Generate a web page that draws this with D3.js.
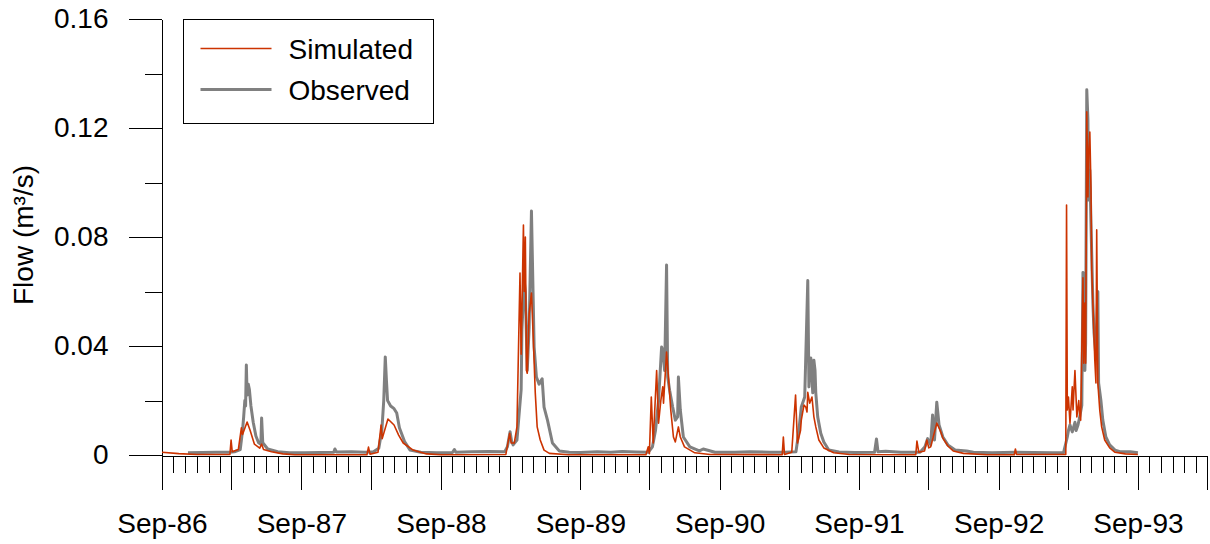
<!DOCTYPE html>
<html>
<head>
<meta charset="utf-8">
<script src="https://cdn.jsdelivr.net/npm/d3@7"></script>
<style>
  body { margin: 0; background: #fff; }
  svg { display: block; font-family: "Liberation Sans", Arial, sans-serif; }
  .axis text { font-size: 28px; fill: #000; }
  .axis line, .axis path { stroke: #000; shape-rendering: crispEdges; }
</style>
</head>
<body>
<div id="chart"></div>
<script>
// observed flow, m3/s
const observed = [
  ["1986-11-08", 0.0008], ["1986-12-15", 0.0009], ["1987-01-20", 0.0010], ["1987-02-25", 0.0010],
  ["1987-03-10", 0.0012], ["1987-03-25", 0.0020], ["1987-03-31", 0.0090], ["1987-04-03", 0.0140],
  ["1987-04-06", 0.0200], ["1987-04-08", 0.0180], ["1987-04-10", 0.0330], ["1987-04-12", 0.0220],
  ["1987-04-15", 0.0260], ["1987-04-18", 0.0240], ["1987-04-22", 0.0180], ["1987-04-28", 0.0120],
  ["1987-05-05", 0.0070], ["1987-05-12", 0.0045], ["1987-05-18", 0.0040], ["1987-05-20", 0.0136],
  ["1987-05-23", 0.0045], ["1987-06-05", 0.0022], ["1987-07-01", 0.0012], ["1987-08-01", 0.0008],
  ["1987-09-10", 0.0008], ["1987-10-20", 0.0009], ["1987-11-25", 0.0010], ["1987-11-28", 0.0022],
  ["1987-12-02", 0.0011], ["1988-01-10", 0.0012], ["1988-02-15", 0.0010], ["1988-03-08", 0.0012],
  ["1988-03-22", 0.0025], ["1988-03-30", 0.0090], ["1988-04-04", 0.0200], ["1988-04-08", 0.0360],
  ["1988-04-11", 0.0275], ["1988-04-14", 0.0200], ["1988-04-22", 0.0180], ["1988-05-01", 0.0170],
  ["1988-05-08", 0.0154], ["1988-05-15", 0.0100], ["1988-05-29", 0.0048], ["1988-06-12", 0.0018],
  ["1988-07-10", 0.0010], ["1988-08-20", 0.0008], ["1988-10-01", 0.0009], ["1988-10-06", 0.0020],
  ["1988-10-10", 0.0010], ["1988-11-20", 0.0012], ["1989-01-05", 0.0013], ["1989-02-15", 0.0012],
  ["1989-02-22", 0.0030], ["1989-03-01", 0.0085], ["1989-03-05", 0.0050], ["1989-03-09", 0.0037],
  ["1989-03-19", 0.0055], ["1989-03-30", 0.0240], ["1989-04-01", 0.0460], ["1989-04-07", 0.0640],
  ["1989-04-10", 0.0600], ["1989-04-15", 0.0310], ["1989-04-20", 0.0470], ["1989-04-26", 0.0895],
  ["1989-05-03", 0.0396], ["1989-05-09", 0.0286], ["1989-05-16", 0.0260], ["1989-05-24", 0.0280],
  ["1989-05-29", 0.0176], ["1989-06-07", 0.0128], ["1989-06-20", 0.0044], ["1989-07-08", 0.0015],
  ["1989-08-03", 0.0010], ["1989-09-01", 0.0009], ["1989-10-15", 0.0012], ["1989-11-20", 0.0010],
  ["1989-12-20", 0.0013], ["1990-01-25", 0.0011], ["1990-02-26", 0.0010], ["1990-03-09", 0.0030],
  ["1990-03-17", 0.0090], ["1990-03-25", 0.0200], ["1990-04-02", 0.0396], ["1990-04-05", 0.0385],
  ["1990-04-10", 0.0310], ["1990-04-15", 0.0697], ["1990-04-18", 0.0286], ["1990-04-23", 0.0238],
  ["1990-05-01", 0.0176], ["1990-05-08", 0.0128], ["1990-05-14", 0.0140], ["1990-05-16", 0.0286],
  ["1990-05-21", 0.0165], ["1990-05-29", 0.0066], ["1990-06-15", 0.0030], ["1990-07-10", 0.0015],
  ["1990-07-20", 0.0022], ["1990-08-20", 0.0010], ["1990-10-10", 0.0010], ["1990-11-20", 0.0012],
  ["1991-01-10", 0.0010], ["1991-02-20", 0.0010], ["1991-03-20", 0.0012], ["1991-03-27", 0.0080],
  ["1991-04-03", 0.0176], ["1991-04-12", 0.0213], ["1991-04-20", 0.0640], ["1991-04-23", 0.0250],
  ["1991-04-25", 0.0337], ["1991-04-28", 0.0356], ["1991-05-03", 0.0228], ["1991-05-06", 0.0348],
  ["1991-05-09", 0.0310], ["1991-05-11", 0.0228], ["1991-05-16", 0.0140], ["1991-05-24", 0.0080],
  ["1991-06-01", 0.0048], ["1991-06-14", 0.0018], ["1991-07-11", 0.0011], ["1991-08-20", 0.0009],
  ["1991-10-12", 0.0010], ["1991-10-17", 0.0059], ["1991-10-21", 0.0012], ["1991-11-10", 0.0014],
  ["1991-12-20", 0.0010], ["1992-02-08", 0.0010], ["1992-02-21", 0.0030], ["1992-02-28", 0.0060],
  ["1992-03-07", 0.0037], ["1992-03-12", 0.0147], ["1992-03-17", 0.0055], ["1992-03-23", 0.0194],
  ["1992-03-29", 0.0110], ["1992-04-08", 0.0066], ["1992-04-21", 0.0037], ["1992-05-10", 0.0018],
  ["1992-06-09", 0.0015], ["1992-06-27", 0.0010], ["1992-08-15", 0.0008], ["1992-10-15", 0.0010],
  ["1992-12-01", 0.0009], ["1993-01-20", 0.0008], ["1993-02-18", 0.0008], ["1993-02-28", 0.0066],
  ["1993-03-03", 0.0090], ["1993-03-07", 0.0110], ["1993-03-13", 0.0085], ["1993-03-20", 0.0120],
  ["1993-03-23", 0.0090], ["1993-03-28", 0.0110], ["1993-04-01", 0.0136], ["1993-04-07", 0.0183],
  ["1993-04-10", 0.0670], ["1993-04-12", 0.0630], ["1993-04-15", 0.0310], ["1993-04-17", 0.0410],
  ["1993-04-20", 0.1340], ["1993-04-23", 0.1230], ["1993-04-25", 0.0936], ["1993-04-28", 0.1046],
  ["1993-05-01", 0.0850], ["1993-05-06", 0.0558], ["1993-05-09", 0.0448], ["1993-05-14", 0.0360],
  ["1993-05-19", 0.0600], ["1993-05-21", 0.0264], ["1993-05-27", 0.0200], ["1993-06-01", 0.0128],
  ["1993-06-09", 0.0066], ["1993-06-19", 0.0037], ["1993-07-03", 0.0018], ["1993-07-16", 0.0012],
  ["1993-08-12", 0.0012], ["1993-09-01", 0.0008]
];

// simulated flow, m3/s
const simulated = [
  ["1986-09-01", 0.0010], ["1986-10-15", 0.0005], ["1986-12-01", 0.0002], ["1987-02-26", 0.0002],
  ["1987-03-01", 0.0055], ["1987-03-04", 0.0012], ["1987-03-20", 0.0020], ["1987-03-28", 0.0100],
  ["1987-03-31", 0.0075], ["1987-04-12", 0.0121], ["1987-04-20", 0.0090], ["1987-05-01", 0.0040],
  ["1987-05-15", 0.0025], ["1987-05-20", 0.0040], ["1987-05-25", 0.0020], ["1987-06-15", 0.0012],
  ["1987-07-15", 0.0004], ["1987-08-15", 0.0001], ["1988-02-20", 0.0001], ["1988-02-24", 0.0029],
  ["1988-02-28", 0.0003], ["1988-03-20", 0.0010], ["1988-03-28", 0.0110], ["1988-03-31", 0.0060],
  ["1988-04-15", 0.0132], ["1988-05-01", 0.0110], ["1988-05-13", 0.0073], ["1988-05-25", 0.0044],
  ["1988-06-20", 0.0018], ["1988-07-25", 0.0004], ["1988-09-01", 0.0001], ["1989-02-18", 0.0002],
  ["1989-02-28", 0.0080], ["1989-03-04", 0.0044], ["1989-03-12", 0.0044], ["1989-03-19", 0.0103],
  ["1989-03-27", 0.0668], ["1989-03-30", 0.0370], ["1989-04-05", 0.0844], ["1989-04-07", 0.0600],
  ["1989-04-10", 0.0800], ["1989-04-13", 0.0310], ["1989-04-15", 0.0300], ["1989-04-20", 0.0520],
  ["1989-04-26", 0.0594], ["1989-05-01", 0.0420], ["1989-05-06", 0.0228], ["1989-05-11", 0.0103],
  ["1989-05-19", 0.0055], ["1989-05-29", 0.0018], ["1989-06-12", 0.0006], ["1989-08-01", 0.0001],
  ["1990-02-20", 0.0001], ["1990-02-26", 0.0030], ["1990-03-01", 0.0005], ["1990-03-06", 0.0213],
  ["1990-03-11", 0.0044], ["1990-03-20", 0.0310], ["1990-03-25", 0.0117], ["1990-03-31", 0.0200],
  ["1990-04-05", 0.0250], ["1990-04-07", 0.0190], ["1990-04-15", 0.0378], ["1990-04-20", 0.0286],
  ["1990-04-26", 0.0165], ["1990-05-03", 0.0066], ["1990-05-08", 0.0048], ["1990-05-16", 0.0103],
  ["1990-05-21", 0.0066], ["1990-06-01", 0.0030], ["1990-06-28", 0.0008], ["1990-08-07", 0.0002],
  ["1991-02-12", 0.0001], ["1991-02-15", 0.0066], ["1991-02-18", 0.0002], ["1991-03-09", 0.0010],
  ["1991-03-19", 0.0220], ["1991-03-24", 0.0044], ["1991-04-01", 0.0090], ["1991-04-03", 0.0128],
  ["1991-04-10", 0.0183], ["1991-04-15", 0.0175], ["1991-04-18", 0.0158], ["1991-04-20", 0.0230],
  ["1991-04-25", 0.0190], ["1991-05-01", 0.0213], ["1991-05-06", 0.0140], ["1991-05-11", 0.0103],
  ["1991-05-19", 0.0055], ["1991-06-01", 0.0026], ["1991-06-27", 0.0008], ["1991-08-07", 0.0002],
  ["1992-01-28", 0.0001], ["1992-01-31", 0.0051], ["1992-02-05", 0.0010], ["1992-02-20", 0.0015],
  ["1992-02-26", 0.0055], ["1992-03-02", 0.0026], ["1992-03-07", 0.0030], ["1992-03-23", 0.0117],
  ["1992-04-01", 0.0090], ["1992-04-08", 0.0062], ["1992-04-21", 0.0033], ["1992-05-05", 0.0015],
  ["1992-06-01", 0.0006], ["1992-08-01", 0.0001], ["1992-10-12", 0.0001], ["1992-10-15", 0.0022],
  ["1992-10-18", 0.0002], ["1993-02-24", 0.0002], ["1993-02-26", 0.0917], ["1993-02-28", 0.0165],
  ["1993-03-03", 0.0213], ["1993-03-07", 0.0117], ["1993-03-13", 0.0250], ["1993-03-15", 0.0165],
  ["1993-03-20", 0.0310], ["1993-03-25", 0.0140], ["1993-03-30", 0.0200], ["1993-04-01", 0.0154],
  ["1993-04-04", 0.0128], ["1993-04-10", 0.0650], ["1993-04-12", 0.0337], ["1993-04-15", 0.0558],
  ["1993-04-17", 0.0337], ["1993-04-20", 0.1259], ["1993-04-23", 0.0947], ["1993-04-25", 0.1110],
  ["1993-04-28", 0.1185], ["1993-05-01", 0.0980], ["1993-05-03", 0.0680], ["1993-05-06", 0.0558],
  ["1993-05-09", 0.0433], ["1993-05-11", 0.0349], ["1993-05-14", 0.0264], ["1993-05-16", 0.0826],
  ["1993-05-19", 0.0264], ["1993-05-24", 0.0165], ["1993-05-29", 0.0103], ["1993-06-06", 0.0055],
  ["1993-06-19", 0.0026], ["1993-07-03", 0.0010], ["1993-07-30", 0.0004], ["1993-09-01", 0.0002]
];

const yMajorTicks = [0, 0.04, 0.08, 0.12, 0.16];
const yMinorTicks = [0.02, 0.06, 0.10, 0.14];
const xStart = "1986-09-01";
const xEnd = "1994-03-01";
const seriesNames = ["Simulated", "Observed"];

const width = 1210;
const height = 544;
const margin = { top: 19, right: 3, bottom: 89, left: 162 };
const colors = { Simulated: "#cc3300", Observed: "#808080" };
const widths = { Simulated: 1.6, Observed: 3 };

const parse = d3.utcParse("%Y-%m-%d");
const toPoints = (arr) => arr.map(([d, v]) => ({ date: parse(d), value: v }));
const obs = toPoints(observed);
const sim = toPoints(simulated);

const svg = d3.select("#chart").append("svg")
  .attr("width", width)
  .attr("height", height);

const x = d3.scaleUtc()
  .domain([parse(xStart), parse(xEnd)])
  .range([margin.left, width - margin.right]);

const y = d3.scaleLinear()
  .domain([0, 0.16])
  .range([height - margin.bottom, margin.top]);

// y axis: minor then major ticks
svg.append("g")
  .attr("class", "axis")
  .attr("transform", `translate(${margin.left - 0.5},0)`)
  .call(d3.axisLeft(y).tickValues(yMinorTicks).tickSize(17).tickSizeOuter(0).tickFormat(""));

svg.append("g")
  .attr("class", "axis")
  .attr("transform", `translate(${margin.left - 0.5},0)`)
  .call(d3.axisLeft(y).tickValues(yMajorTicks).tickSize(33).tickSizeOuter(0).tickPadding(20)
    .tickFormat((d) => (d === 0 ? "0" : d3.format(".2f")(d))));

// x axis: monthly minor ticks, major ticks on Sep and Mar, labels on Sep
const xBase = height - margin.bottom;
const allMonths = d3.utcMonth.range(parse(xStart), d3.utcMonth.offset(parse(xEnd), 1));
const halfYears = allMonths.filter((d) => d.getUTCMonth() === 8 || d.getUTCMonth() === 2);

svg.append("g")
  .attr("class", "axis")
  .attr("transform", `translate(0,${xBase + 0.5})`)
  .call(d3.axisBottom(x).tickValues(allMonths).tickSize(17).tickSizeOuter(0).tickFormat(""));

svg.append("g")
  .attr("class", "axis")
  .attr("transform", `translate(0,${xBase + 0.5})`)
  .call(d3.axisBottom(x).tickValues(halfYears).tickSize(34).tickSizeOuter(0).tickPadding(24)
    .tickFormat((d) => (d.getUTCMonth() === 8 ? d3.utcFormat("%b-%y")(d) : "")));

// y label
svg.append("text")
  .attr("transform", `translate(33,${235}) rotate(-90)`)
  .attr("text-anchor", "middle")
  .style("font-size", "28px")
  .text("Flow (m³/s)");

// lines
const line = d3.line()
  .x((d) => x(d.date))
  .y((d) => y(d.value));

svg.append("path")
  .datum(obs)
  .attr("fill", "none")
  .attr("stroke", colors.Observed)
  .attr("stroke-width", widths.Observed)
  .attr("stroke-linejoin", "round")
  .attr("d", line);

svg.append("path")
  .datum(sim)
  .attr("fill", "none")
  .attr("stroke", colors.Simulated)
  .attr("stroke-width", widths.Simulated)
  .attr("stroke-linejoin", "round")
  .attr("d", line);

// legend
const legend = svg.append("g").attr("transform", "translate(183.5,19.5)");
legend.append("rect")
  .attr("width", 250)
  .attr("height", 104)
  .attr("fill", "#fff")
  .attr("stroke", "#000");

seriesNames.forEach((name, i) => {
  const ly = 29 + i * 41;
  legend.append("line")
    .attr("x1", 17).attr("x2", 88)
    .attr("y1", ly).attr("y2", ly)
    .attr("stroke", colors[name])
    .attr("stroke-width", widths[name]);
  legend.append("text")
    .attr("x", 105)
    .attr("y", ly + 10)
    .style("font-size", "28px")
    .text(name);
});
</script>
</body>
</html>
